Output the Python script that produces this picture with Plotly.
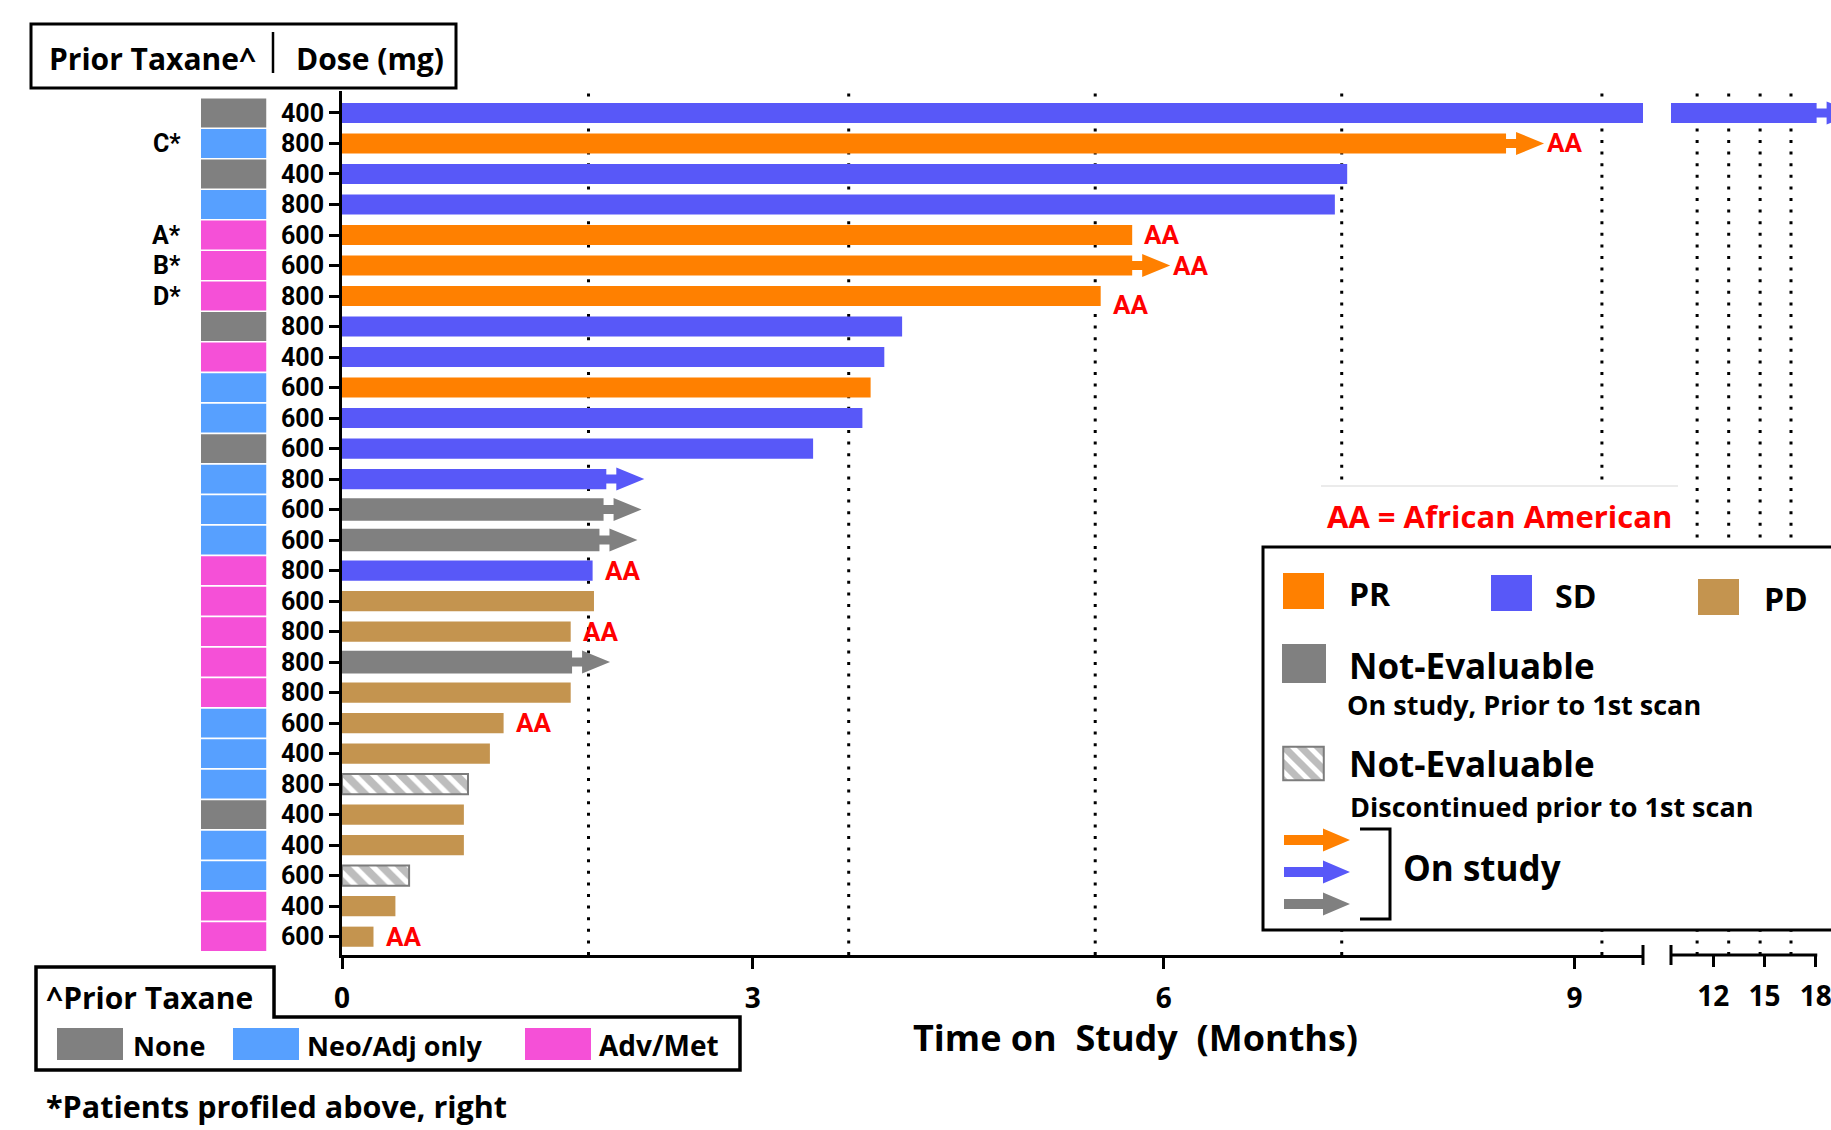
import plotly.graph_objects as go

W, H = 1831, 1130
FONT = "Open Sans"
ROW_FONT = "Roboto"

# ---------------- data: one entry per patient, top row first ----------------
taxane = ["None", "Neo/Adj", "None", "Neo/Adj", "Adv/Met", "Adv/Met", "Adv/Met",
          "None", "Adv/Met", "Neo/Adj", "Neo/Adj", "None", "Neo/Adj", "Neo/Adj",
          "Neo/Adj", "Adv/Met", "Adv/Met", "Adv/Met", "Adv/Met", "Adv/Met",
          "Neo/Adj", "Neo/Adj", "Neo/Adj", "None", "Neo/Adj", "Neo/Adj",
          "Adv/Met", "Adv/Met"]
dose_mg = [400, 800, 400, 800, 600, 600, 800, 800, 400, 600, 600, 600, 800, 600,
           600, 800, 600, 800, 800, 800, 600, 400, 800, 400, 400, 600, 400, 600]
response = ["SD", "PR", "SD", "SD", "PR", "PR", "PR", "SD", "SD", "PR", "SD", "SD",
            "SD", "NE", "NE", "SD", "PD", "PD", "NE", "PD", "PD", "PD", "NE-D",
            "PD", "PD", "NE-D", "PD", "PD"]
months_on_study = [18.05, 8.50, 7.34, 7.25, 5.77, 5.77, 5.54, 4.09, 3.96, 3.86,
                   3.80, 3.44, 1.93, 1.91, 1.88, 1.83, 1.84, 1.67, 1.68, 1.67,
                   1.18, 1.08, 0.92, 0.89, 0.89, 0.49, 0.39, 0.23]
on_study = [True, True, False, False, False, True, False, False, False, False,
            False, False, True, True, True, False, False, False, True, False,
            False, False, False, False, False, False, False, False]
african_american = [False, True, False, False, True, True, True, False, False,
                    False, False, False, False, False, False, True, False, True,
                    False, False, True, False, False, False, False, False, False,
                    True]
profiled = ["", "C*", "", "", "A*", "B*", "D*"] + [""] * 21
scan_months = [1.8, 3.7, 5.5, 7.3, 9.2, 11.05, 12.9, 14.74, 16.55]
ticks_seg1 = [0, 3, 6, 9]
ticks_seg2 = [12, 15, 18]
taxane_names = {"None": "None", "Neo/Adj": "Neo/Adj only", "Adv/Met": "Adv/Met"}

# ---------------- styling ----------------
RESP_COLOR = {"PR": "#FF8000", "SD": "#5858F8", "PD": "#C4944F",
              "NE": "#808080", "NE-D": "#FFFFFF"}
TAX_COLOR = {"None": "#808080", "Neo/Adj": "#57A0FF", "Adv/Met": "#F550D7"}
HATCH = "#7C7C7C"
RED = "#FF0000"


def px(x):
    return x / W


def py(y):
    return 1 - y / H


# broken time axis: two segments
BREAK = 9.5
SEG1_PX = (342, 1643)
SEG2_PX = (1671, W)
SEG2_START = 9.52
SEG2_PPM = 17.07
seg2_end = SEG2_START + (SEG2_PX[1] - SEG2_PX[0]) / SEG2_PPM


def seg2_paper(v):
    return px(SEG2_PX[0] + (v - SEG2_START) * SEG2_PPM)


# rows
n = len(dose_mg)
ypos = [n - i for i in range(n)]
PLOT_TOP, PLOT_BOT = 91, 955
Y_RANGE = [0.4, 28.72]

fig = go.Figure()

# response bars, drawn on both axis segments
for xa in ("x", "x2"):
    for cat in ["PR", "SD", "PD", "NE", "NE-D"]:
        idx = [i for i in range(n) if response[i] == cat]
        if not idx:
            continue
        widths = [0.74 if (cat == "NE" and on_study[i]) else 0.66 for i in idx]
        marker = dict(color=RESP_COLOR[cat], line=dict(width=0))
        if cat == "NE-D":
            marker = dict(color="white",
                          line=dict(color=HATCH, width=2),
                          pattern=dict(shape="\\", fgcolor=HATCH, bgcolor="white",
                                       size=13, solidity=0.6))
        fig.add_trace(go.Bar(
            x=[months_on_study[i] for i in idx], y=[ypos[i] for i in idx],
            width=widths, orientation="h", marker=marker,
            xaxis=xa, yaxis="y", showlegend=False, hoverinfo="skip"))

# prior-taxane colour column
fig.add_trace(go.Bar(
    x=[1] * n, y=ypos, width=0.945, orientation="h",
    marker=dict(color=[TAX_COLOR[t] for t in taxane], line=dict(width=0)),
    xaxis="x3", yaxis="y", showlegend=False, hoverinfo="skip"))

# hatched legend swatch (needs a bar to carry the pattern)
fig.add_trace(go.Bar(
    x=[1], y=[0], width=1, orientation="h",
    marker=dict(color="white", line=dict(color=HATCH, width=2),
                pattern=dict(shape="\\", fgcolor=HATCH, bgcolor="white",
                             size=12, solidity=0.6)),
    xaxis="x4", yaxis="y2", showlegend=False, hoverinfo="skip"))

shapes = []
annotations = []

# scan-interval reference lines
for s in scan_months:
    shapes.append(dict(type="line", xref="x" if s < BREAK else "x2", yref="paper",
                       x0=s, x1=s, y0=py(PLOT_BOT), y1=py(92),
                       line=dict(color="black", width=3, dash="3px,8.6px"),
                       layer="below"))

# on-study arrows
ARROW = "M-1,-4.5 L10,-4.5 L10,-11.5 L38,0 L10,11.5 L10,4.5 L-1,4.5 Z"
for i in range(n):
    if on_study[i]:
        m = months_on_study[i]
        shapes.append(dict(type="path", xref="x" if m < BREAK else "x2", yref="y",
                           xsizemode="pixel", ysizemode="pixel",
                           xanchor=m, yanchor=ypos[i], path=ARROW,
                           fillcolor=RESP_COLOR[response[i]], line=dict(width=0),
                           layer="above"))

# AA labels
aa_nudge = {6: -9}
for i in range(n):
    if african_american[i]:
        m = months_on_study[i]
        annotations.append(dict(
            x=m, y=ypos[i], xref="x" if m < BREAK else "x2", yref="y",
            text="AA", showarrow=False, xanchor="left", yanchor="middle",
            xshift=39 if on_study[i] else 10, yshift=aa_nudge.get(i, 0),
            font=dict(family=ROW_FONT, size=26, color=RED, weight="bold")))

# profiled-patient letters
for i in range(n):
    if profiled[i]:
        annotations.append(dict(
            x=px(183), y=ypos[i], xref="paper", yref="y", text=profiled[i],
            showarrow=False, xanchor="right", yanchor="middle",
            font=dict(family=ROW_FONT, size=25, color="black", weight="bold")))

# axis break marks and second-segment axis line
axis_y = py(PLOT_BOT)
for xb in (px(SEG1_PX[1]), px(SEG2_PX[0])):
    shapes.append(dict(type="line", xref="paper", yref="paper", x0=xb, x1=xb,
                       y0=py(965), y1=py(945), line=dict(color="black", width=3)))
shapes.append(dict(type="line", xref="paper", yref="paper",
                   x0=px(SEG2_PX[0]), x1=seg2_paper(18) + px(1.5),
                   y0=axis_y, y1=axis_y, line=dict(color="black", width=3)))


def text(x, y, s, size, anchor="left", color="black"):
    annotations.append(dict(x=px(x), y=py(y), xref="paper", yref="paper",
                            text=s, showarrow=False, xanchor=anchor,
                            yanchor="middle",
                            font=dict(family=FONT, size=size, color=color,
                                      weight="bold")))


def rect(x0, y0, x1, y1, fill=None, lw=0, lc="black", layer="above"):
    shapes.append(dict(type="rect", xref="paper", yref="paper",
                       x0=px(x0), x1=px(x1), y0=py(y1), y1=py(y0),
                       fillcolor=fill if fill else "rgba(0,0,0,0)",
                       line=dict(width=lw, color=lc), layer=layer))


def path(points, fill=None, lw=0, closed=True):
    d = "M" + " L".join(f"{px(x):.5f},{py(y):.5f}" for x, y in points)
    if closed:
        d += " Z"
    shapes.append(dict(type="path", xref="paper", yref="paper", path=d,
                       fillcolor=fill if fill else "rgba(0,0,0,0)",
                       line=dict(width=lw, color="black"), layer="above"))


# header box
rect(31, 24, 456, 88, lw=3)
shapes.append(dict(type="line", xref="paper", yref="paper", x0=px(273), x1=px(273),
                   y0=py(73), y1=py(32), line=dict(color="black", width=2.5)))
text(47, 58, "Prior Taxane^", 30)
text(294, 58, "Dose (mg)", 30)

# x-axis title
text(1135, 1037, "Time on&nbsp; Study&nbsp; (Months)", 36, anchor="center")

# AA key with white backing (kept beneath the bars layer)
rect(1321, 486, 1679, 546, fill="white", layer="below")
shapes.append(dict(type="line", xref="paper", yref="paper", x0=px(1321), x1=px(1678),
                   y0=py(486), y1=py(486), line=dict(color="#E4E4E4", width=1.5),
                   layer="above"))
text(1499, 516, "AA = African American", 31, anchor="center", color=RED)

# response key: white backing below, frame above
rect(1263, 547, 1850, 930, fill="white", layer="below")
rect(1263, 547, 1850, 930, lw=3)
rect(1283, 573, 1324, 609, fill=RESP_COLOR["PR"])
text(1347, 593, "PR", 32)
rect(1491, 575, 1532, 611, fill=RESP_COLOR["SD"])
text(1553, 595, "SD", 32)
rect(1698, 579, 1739, 615, fill=RESP_COLOR["PD"])
text(1762, 598, "PD", 32)
rect(1282, 644, 1326, 683, fill=RESP_COLOR["NE"])
text(1347, 665, "Not-Evaluable", 35)
text(1345, 704, "On study, Prior to 1st scan", 27)
text(1347, 763, "Not-Evaluable", 35)
text(1348, 806, "Discontinued prior to 1st scan", 27)
for yy, c in ((840, RESP_COLOR["PR"]), (872, RESP_COLOR["SD"]), (904, RESP_COLOR["NE"])):
    path([(1284, yy - 5), (1323, yy - 5), (1323, yy - 11.5), (1350, yy),
          (1323, yy + 11.5), (1323, yy + 5), (1284, yy + 5)], fill=c)
path([(1360, 829), (1390, 829), (1390, 919), (1360, 919)], lw=3, closed=False)
text(1401, 867, "On study", 35)

# prior-taxane key
path([(36, 967), (274, 967), (274, 1017), (740, 1017), (740, 1070), (36, 1070)], lw=3.5)
text(44, 997, "^Prior Taxane", 30)
key_x = {"None": (57, 123, 131), "Neo/Adj": (233, 299, 305), "Adv/Met": (525, 591, 597)}
for t, (x0, x1, tx) in key_x.items():
    rect(x0, 1028, x1, 1060, fill=TAX_COLOR[t])
    text(tx, 1045, taxane_names[t], 28 if t == "Adv/Met" else 27)

text(44, 1106, "*Patients profiled above, right", 30.5)

tickfont = dict(family=FONT, size=28, color="black", weight="bold")
fig.update_layout(
    width=W, height=H,
    margin=dict(l=0, r=0, t=0, b=0, pad=0, autoexpand=False),
    paper_bgcolor="white", plot_bgcolor="white", barmode="overlay",
    showlegend=False, shapes=shapes, annotations=annotations,
    xaxis=dict(domain=[px(SEG1_PX[0]), px(SEG1_PX[1])], range=[0, BREAK],
               anchor="y", showline=True, linewidth=3, linecolor="black",
               ticks="outside", ticklen=11, tickwidth=3, tickcolor="black",
               tickvals=ticks_seg1, tickfont=tickfont, ticklabelstandoff=5,
               showgrid=False, zeroline=False, automargin=False),
    xaxis2=dict(domain=[px(SEG2_PX[0]), 1.0], range=[SEG2_START, seg2_end],
                anchor="y", showline=False, ticks="outside", ticklen=11,
                tickwidth=3, tickcolor="black", tickvals=ticks_seg2,
                tickfont=tickfont, ticklabelstandoff=5, ticklabeloverflow="allow",
                showgrid=False, zeroline=False, automargin=False),
    xaxis3=dict(domain=[px(201), px(266.5)], range=[0, 1], anchor="y",
                visible=False, automargin=False),
    xaxis4=dict(domain=[px(1282), px(1325)], range=[-0.03, 1.03], anchor="y2",
                visible=False, automargin=False),
    yaxis=dict(domain=[py(PLOT_BOT), py(PLOT_TOP)], range=Y_RANGE, anchor="x",
               showline=True, linewidth=3, linecolor="black", ticks="outside",
               ticklen=10, tickwidth=3, tickcolor="black", tickvals=ypos,
               ticktext=[str(d) for d in dose_mg],
               tickfont=dict(family=ROW_FONT, size=25, color="black", weight="bold"),
               showgrid=False, zeroline=False, automargin=False),
    yaxis2=dict(domain=[py(782), py(745)], range=[-0.55, 0.55], anchor="x4",
                visible=False, automargin=False),
)

fig.write_html("out.html", config={"displayModeBar": False})
